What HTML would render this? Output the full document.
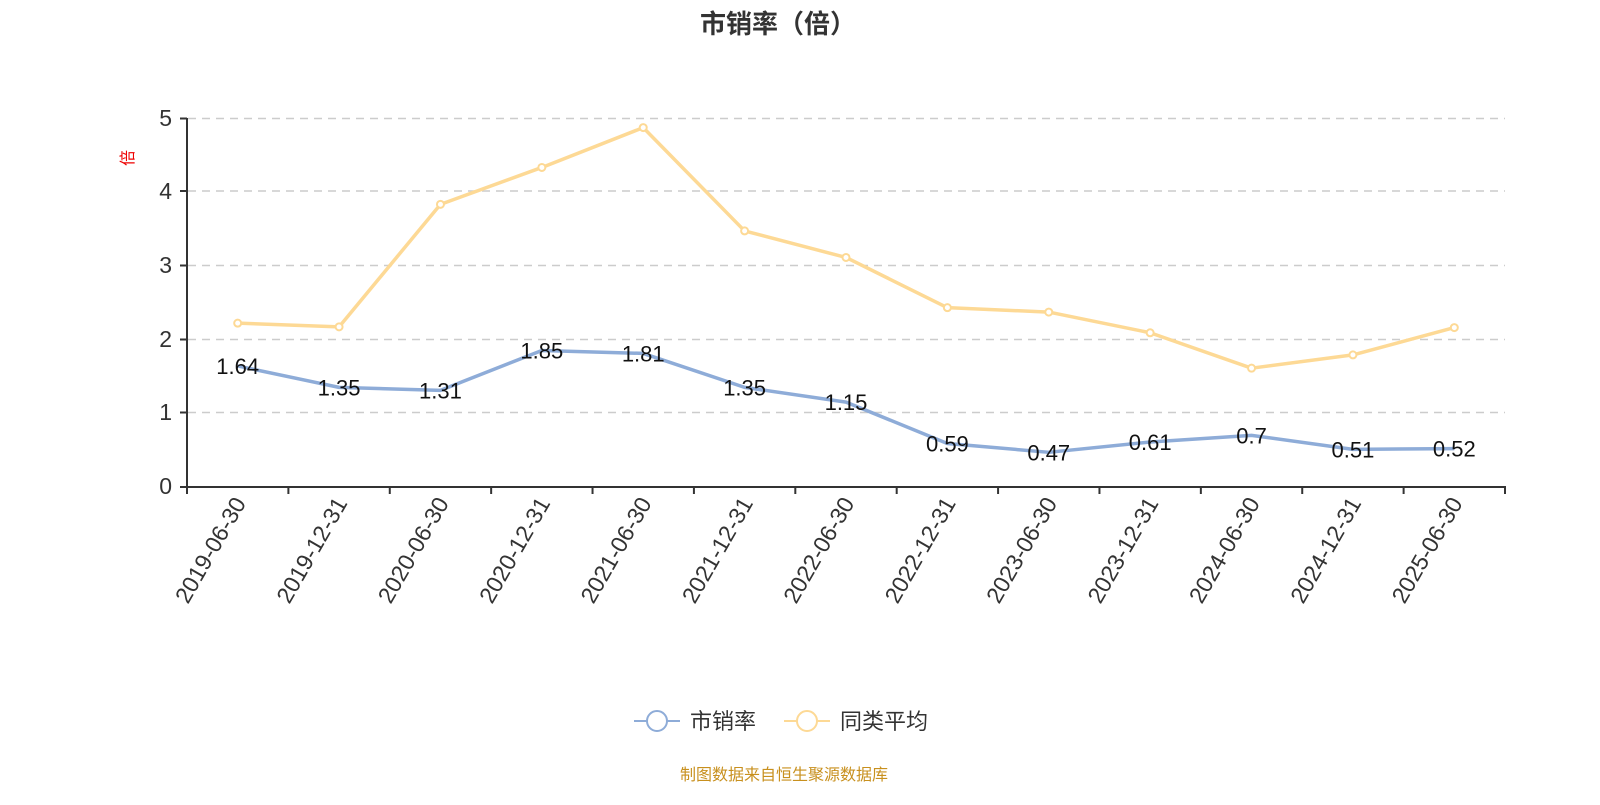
<!DOCTYPE html>
<html><head><meta charset="utf-8"><style>
body{margin:0;background:#fff;}
svg text{font-family:"Liberation Sans","Noto Sans CJK SC",sans-serif;}
</style></head><body>
<svg width="1600" height="800" viewBox="0 0 1600 800" xmlns="http://www.w3.org/2000/svg">
<text x="778" y="33" text-anchor="middle" font-size="26" font-weight="bold" fill="#333">市销率（倍）</text>
<text transform="translate(133,158) rotate(-90)" text-anchor="middle" font-size="16" fill="#e00">倍</text>
<g stroke="#ccc" stroke-width="1.5" stroke-dasharray="8,6">
<line x1="188" y1="118.5" x2="1505" y2="118.5"/><line x1="188" y1="191" x2="1505" y2="191"/><line x1="188" y1="265.5" x2="1505" y2="265.5"/><line x1="188" y1="339.5" x2="1505" y2="339.5"/><line x1="188" y1="412.5" x2="1505" y2="412.5"/>
</g>
<g stroke="#333" stroke-width="2">
<line x1="187" y1="118" x2="187" y2="488"/><line x1="186" y1="487" x2="1506" y2="487"/>
<line x1="180" y1="118.5" x2="187" y2="118.5"/><line x1="180" y1="191" x2="187" y2="191"/><line x1="180" y1="265.5" x2="187" y2="265.5"/><line x1="180" y1="339.5" x2="187" y2="339.5"/><line x1="180" y1="412.5" x2="187" y2="412.5"/><line x1="180" y1="487" x2="187" y2="487"/>
</g>
<g font-size="23" fill="#333" text-anchor="end">
<text x="172" y="126">5</text><text x="172" y="199">4</text><text x="172" y="273">3</text><text x="172" y="347">2</text><text x="172" y="420">1</text><text x="172" y="494">0</text>
</g>
<g id="xt" stroke="#333" stroke-width="2"></g>
<g id="xl" font-size="23" fill="#333" text-anchor="end"></g>
<polyline id="y" fill="none" stroke="#fdd995" stroke-width="3.5" stroke-linejoin="round"/>
<polyline id="b" fill="none" stroke="#8eacd8" stroke-width="3.5" stroke-linejoin="round"/>
<g id="dots"></g>
<g id="lab" font-size="22" fill="#111" text-anchor="middle"></g>
<line x1="634" y1="721" x2="680" y2="721" stroke="#8eacd8" stroke-width="2"/>
<circle cx="657" cy="721" r="10" fill="#fff" stroke="#8eacd8" stroke-width="2"/>
<text x="690" y="729" font-size="22" fill="#333">市销率</text>
<line x1="784" y1="721" x2="830" y2="721" stroke="#fdd995" stroke-width="2"/>
<circle cx="807" cy="721" r="10" fill="#fff" stroke="#fdd995" stroke-width="2"/>
<text x="840" y="729" font-size="22" fill="#333">同类平均</text>
<text x="784" y="780" text-anchor="middle" font-size="16" fill="#c8901e">制图数据来自恒生聚源数据库</text>
</svg>
<script>
var d=["2019-06-30","2019-12-31","2020-06-30","2020-12-31","2021-06-30","2021-12-31","2022-06-30","2022-12-31","2023-06-30","2023-12-31","2024-06-30","2024-12-31","2025-06-30"];
var a=[1.64,1.35,1.31,1.85,1.81,1.35,1.15,0.59,0.47,0.61,0.7,0.51,0.52];
var c=[2.22,2.17,3.83,4.33,4.87,3.47,3.11,2.43,2.37,2.09,1.61,1.79,2.16];
var w=(1505-187)/13,ns="http://www.w3.org/2000/svg";
function X(i){return 187+w*(i+0.5)}function Y(v){return 487-v*73.8}
function el(p,t,at,tx){var e=document.createElementNS(ns,t);for(var k in at)e.setAttribute(k,at[k]);if(tx!=null)e.textContent=tx;document.getElementById(p).appendChild(e);}
var pa=[],pc=[];
for(var i=0;i<13;i++){pa.push(X(i)+","+Y(a[i]));pc.push(X(i)+","+Y(c[i]));
el("xt","line",{x1:187+w*i,y1:487,x2:187+w*i,y2:494});
el("xl","text",{transform:"translate("+(X(i)+9)+",503) rotate(-60)"},d[i]);
el("dots","circle",{cx:X(i),cy:Y(c[i]),r:3.5,fill:"#fff",stroke:"#fdd995","stroke-width":2});
el("lab","text",{x:X(i),y:Y(a[i])+8},String(a[i]));}
el("xt","line",{x1:1505,y1:487,x2:1505,y2:494});
document.getElementById("y").setAttribute("points",pc.join(" "));
document.getElementById("b").setAttribute("points",pa.join(" "));
</script>
</body></html>
